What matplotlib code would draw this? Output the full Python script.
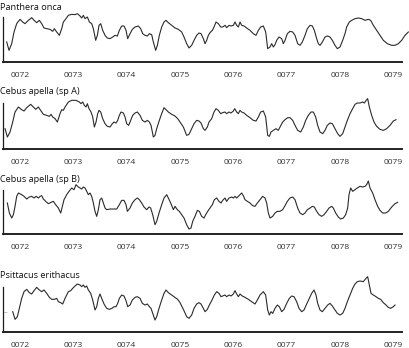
import matplotlib
matplotlib.use("Agg")
import matplotlib.pyplot as plt

plt.rcParams['font.family'] = ['Open Sans', 'DejaVu Sans']

# sample index along the recording, shared tick labels
tick_samples = [60, 220, 380, 540, 700, 860, 1020, 1180]
tick_labels = ['0072', '0073', '0074', '0075', '0076', '0077', '0078', '0079']

species = ['Panthera onca', 'Cebus apella (sp A)', 'Cebus apella (sp B)', 'Psittacus erithacus']

onca_t = [20, 27, 35, 42, 50, 60, 68, 75, 85, 95, 102, 110, 118, 125, 132, 140, 150, 158, 163, 170,
          178, 185, 190, 198, 205, 215, 225, 232, 240, 245, 250, 255, 262, 268, 275, 280, 287, 292, 297, 302,
          308, 315, 322, 330, 338, 345, 352, 358, 365, 372, 378, 383, 390, 397, 405, 415, 422, 428, 435, 442,
          448, 455, 460, 467, 472, 478, 485, 492, 498, 505, 515, 525, 535, 545, 552, 560, 567, 575, 582, 590,
          597, 603, 610, 615, 620, 625, 630, 637, 642, 648, 655, 662, 668, 675, 680, 687, 693, 700, 705, 710,
          715, 720, 725, 732, 740, 750, 760, 768, 775, 782, 790, 797, 803, 810, 815, 820, 825, 830, 837, 845,
          850, 855, 862, 870, 878, 885, 893, 900, 907, 915, 922, 930, 937, 943, 950, 955, 960, 967, 975, 982,
          990, 997, 1005, 1012, 1020, 1028, 1035, 1040, 1048, 1055, 1065, 1075, 1085, 1095, 1105, 1112, 1120, 1130, 1140, 1150,
          1162, 1175, 1185, 1195, 1205, 1215, 1225]
onca_v = [60, 35, 55, 90, 115, 128, 120, 115, 125, 133, 125, 118, 125, 115, 102, 100, 98, 92, 100, 90,
          80, 100, 120, 130, 140, 143, 142, 145, 138, 132, 140, 130, 135, 120, 115, 100, 65, 80, 110, 115,
          95, 80, 72, 70, 75, 80, 78, 95, 108, 108, 95, 70, 85, 98, 105, 108, 100, 85, 80, 78,
          85, 82, 60, 35, 50, 80, 105, 120, 125, 118, 110, 102, 98, 90, 75, 55, 42, 50, 65, 80,
          87, 85, 70, 55, 65, 80, 88, 95, 105, 120, 115, 105, 105, 110, 103, 110, 108, 110, 120, 110,
          105, 120, 110, 108, 102, 95, 85, 80, 95, 105, 108, 90, 40, 45, 55, 45, 52, 65, 75, 70,
          55, 65, 85, 92, 90, 80, 55, 50, 60, 80, 100, 110, 108, 95, 70, 55, 50, 60, 75, 78,
          75, 65, 50, 40, 45, 65, 85, 105, 120, 125, 130, 132, 130, 125, 128, 125, 110, 95, 80, 65,
          55, 50, 50, 55, 65, 80, 90]

apellaA_t = [15, 22, 30, 38, 45, 55, 65, 72, 80, 92, 100, 107, 115, 122, 130, 140, 148, 153, 158, 165,
             172, 180, 185, 190, 195, 205, 215, 228, 238, 243, 248, 253, 258, 262, 267, 273, 278, 283, 288, 293,
             297, 302, 308, 315, 322, 330, 337, 342, 348, 353, 358, 363, 370, 375, 380, 386, 392, 398, 405, 412,
             420, 427, 435, 442, 448, 453, 460, 465, 470, 478, 485, 492, 498, 505, 515, 525, 533, 540, 550, 560,
             567, 575, 582, 590, 597, 603, 610, 615, 622, 627, 635, 642, 648, 655, 662, 668, 675, 680, 687, 693,
             700, 704, 710, 715, 720, 725, 732, 740, 750, 760, 768, 775, 782, 790, 797, 803, 808, 813, 820, 828,
             835, 840, 848, 855, 863, 870, 878, 885, 893, 902, 910, 917, 925, 933, 940, 947, 953, 960, 968, 975,
             982, 990, 997, 1005, 1013, 1020, 1028, 1035, 1042, 1050, 1058, 1065, 1072, 1080, 1088, 1093, 1100, 1103, 1108, 1115,
             1122, 1130, 1140, 1150, 1160, 1170, 1180, 1188]
apellaA_v = [60, 35, 50, 80, 110, 125, 117, 113, 123, 133, 125, 118, 125, 115, 103, 100, 97, 103, 95, 90,
             80, 105, 117, 115, 125, 140, 145, 145, 140, 135, 140, 130, 125, 135, 120, 110, 95, 65, 80, 105,
             115, 110, 90, 75, 67, 65, 75, 80, 77, 85, 100, 110, 107, 95, 75, 70, 85, 100, 107, 110,
             100, 85, 80, 85, 80, 70, 35, 40, 60, 85, 105, 123, 117, 110, 103, 98, 90, 80, 65, 40,
             43, 60, 75, 85, 83, 77, 60, 55, 65, 80, 90, 110, 120, 115, 105, 108, 110, 105, 110, 107,
             113, 120, 110, 105, 115, 110, 107, 100, 93, 85, 83, 95, 110, 113, 95, 40, 37, 50, 55, 60,
             55, 65, 80, 87, 93, 93, 85, 70, 55, 50, 65, 85, 100, 110, 110, 95, 70, 50, 45, 55,
             70, 77, 75, 60, 45, 37, 45, 65, 85, 105, 120, 133, 137, 137, 140, 137, 147, 150, 125, 100,
             80, 67, 58, 55, 60, 70, 83, 87]

apellaB_t = [22, 28, 35, 40, 45, 50, 55, 65, 72, 80, 88, 95, 102, 108, 115, 120, 125, 130, 137, 145,
             153, 160, 167, 175, 182, 187, 192, 200, 207, 215, 222, 228, 235, 240, 245, 250, 255, 260, 265, 270,
             275, 280, 285, 290, 295, 300, 305, 310, 315, 320, 330, 340, 350, 358, 365, 372, 378, 382, 390, 397,
             405, 412, 418, 425, 432, 440, 447, 452, 458, 465, 470, 477, 485, 492, 500, 505, 512, 520, 525, 532,
             538, 545, 552, 560, 567, 573, 578, 585, 592, 598, 605, 612, 617, 623, 630, 637, 643, 650, 657, 663,
             668, 675, 680, 687, 695, 700, 705, 710, 715, 720, 725, 730, 735, 742, 750, 758, 765, 772, 780, 788,
             795, 800, 805, 810, 818, 825, 832, 840, 848, 855, 862, 870, 878, 885, 893, 900, 908, 915, 922, 930,
             937, 943, 950, 957, 965, 972, 980, 987, 995, 1000, 1007, 1015, 1022, 1030, 1037, 1043, 1047, 1052, 1058, 1065,
             1072, 1080, 1088, 1095, 1100, 1105, 1110, 1118, 1125, 1133, 1140, 1148, 1157, 1165, 1175, 1185, 1193]
apellaB_v = [92, 62, 47, 57, 82, 112, 122, 117, 112, 104, 110, 112, 107, 112, 107, 112, 114, 104, 97, 90,
             94, 97, 87, 77, 62, 82, 102, 117, 127, 137, 132, 147, 140, 137, 134, 140, 137, 127, 117, 122,
             112, 92, 67, 52, 72, 102, 107, 92, 77, 72, 74, 74, 74, 87, 100, 100, 87, 67, 77, 92,
             102, 107, 102, 92, 80, 72, 80, 77, 57, 27, 37, 62, 87, 107, 117, 107, 92, 72, 82, 72,
             67, 57, 47, 27, 14, 17, 37, 52, 70, 67, 52, 47, 57, 67, 77, 87, 102, 107, 97, 92,
             100, 107, 97, 107, 110, 107, 112, 107, 112, 117, 122, 114, 102, 97, 92, 84, 82, 92, 102, 112,
             107, 92, 62, 47, 52, 62, 67, 67, 72, 84, 97, 107, 110, 102, 77, 62, 57, 62, 72, 77,
             82, 80, 67, 57, 52, 57, 67, 77, 82, 77, 62, 50, 44, 47, 57, 77, 117, 137, 127, 132,
             137, 142, 140, 142, 147, 158, 137, 122, 102, 82, 70, 62, 62, 67, 80, 90, 94]

erithacus_t = [38, 45, 52, 58, 65, 72, 80, 88, 95, 102, 110, 118, 125, 132, 140, 148, 155, 163, 170, 175,
               182, 188, 195, 200, 205, 212, 218, 225, 232, 240, 245, 250, 255, 260, 265, 272, 278, 285, 290, 295,
               300, 305, 312, 320, 328, 336, 342, 348, 353, 358, 365, 372, 378, 383, 390, 397, 405, 412, 420, 427,
               435, 442, 448, 453, 458, 465, 470, 477, 485, 492, 498, 505, 515, 525, 533, 540, 550, 560, 567, 575,
               582, 590, 597, 603, 610, 615, 622, 628, 635, 643, 650, 657, 663, 668, 675, 680, 687, 693, 700, 705,
               710, 715, 720, 727, 735, 745, 755, 765, 772, 780, 790, 797, 803, 808, 813, 818, 825, 832, 838, 845,
               852, 860, 868, 875, 882, 890, 897, 905, 912, 920, 928, 935, 942, 948, 953, 960, 967, 975, 983, 990,
               997, 1005, 1012, 1020, 1028, 1035, 1042, 1050, 1058, 1065, 1072, 1080, 1090, 1098, 1103, 1108, 1113, 1120, 1128, 1135,
               1142, 1150, 1158, 1165, 1172, 1180, 1185]
erithacus_v = [60, 37, 45, 70, 100, 120, 127, 117, 113, 123, 133, 125, 120, 125, 115, 103, 97, 97, 100, 90,
               87, 83, 100, 110, 120, 123, 130, 137, 143, 140, 135, 140, 133, 137, 125, 115, 95, 65, 75, 100,
               113, 100, 83, 70, 67, 70, 75, 75, 85, 100, 110, 107, 93, 75, 80, 95, 103, 105, 100, 85,
               80, 83, 75, 70, 55, 35, 45, 70, 95, 115, 125, 117, 110, 103, 97, 87, 67, 45, 40, 50,
               70, 83, 87, 83, 70, 60, 67, 80, 93, 110, 120, 115, 105, 107, 110, 105, 110, 107, 113, 123,
               113, 105, 113, 107, 103, 97, 90, 83, 95, 110, 120, 110, 65, 50, 60, 55, 70, 80, 75, 60,
               67, 85, 100, 107, 105, 90, 70, 60, 65, 83, 100, 115, 125, 110, 85, 65, 60, 70, 80, 85,
               77, 65, 55, 50, 55, 70, 90, 110, 130, 143, 150, 152, 150, 160, 165, 140, 115, 110, 105, 100,
               97, 87, 80, 73, 70, 75, 80]

series = [(onca_t, onca_v), (apellaA_t, apellaA_v), (apellaB_t, apellaB_v), (erithacus_t, erithacus_v)]
for t, v in series:
    if len(t) != len(v):
        raise ValueError('length mismatch %d %d' % (len(t), len(v)))

W, H = 410, 348
fig = plt.figure(figsize=(W / 100, H / 100), dpi=100)

# panel frames in pixels: top, baseline, y-limit, left spine height, title y
panels = [
    dict(top=12, base=62, ymax=150, spine=135, title_y=8),
    dict(top=97, base=148.7, ymax=155, spine=137, title_y=92),
    dict(top=183, base=233.7, ymax=152, spine=130, title_y=180),
    dict(top=280, base=331.7, ymax=155, spine=133, title_y=275),
]
x0, x1 = 2.7, 402

for i, (p, (t, v)) in enumerate(zip(panels, series)):
    ax = fig.add_axes([x0 / W, 1 - p['base'] / H, (x1 - x0) / W, (p['base'] - p['top']) / H])
    ax.plot(t, v, color='#2b2b2b', lw=0.8, clip_on=False)
    ax.set_xlim(8, 1206)
    ax.set_ylim(0, p['ymax'])
    ax.patch.set_alpha(0)
    for s in ('top', 'right'):
        ax.spines[s].set_visible(False)
    ax.spines['left'].set_bounds(0, p['spine'])
    ax.spines['left'].set_linewidth(0.9)
    ax.spines['left'].set_color('#1a1a1a')
    ax.spines['bottom'].set_linewidth(1.4)
    ax.spines['bottom'].set_color('#222222')
    ax.set_xticks(tick_samples, tick_labels)
    ax.tick_params(axis='x', length=0, pad=7.5, labelsize=6.1, labelcolor='#333333')
    if i == 3:
        ax.set_yticks([v[0]])
        ax.tick_params(axis='y', direction='in', length=3, width=0.6, color='#bbbbbb', labelleft=False)
    else:
        ax.set_yticks([])
    fig.text(0.5 / W, 1 - p['title_y'] / H, species[i], fontsize=6.6, color='#111111',
             ha='left', va='center')

fig.savefig('out.png', dpi=100)
